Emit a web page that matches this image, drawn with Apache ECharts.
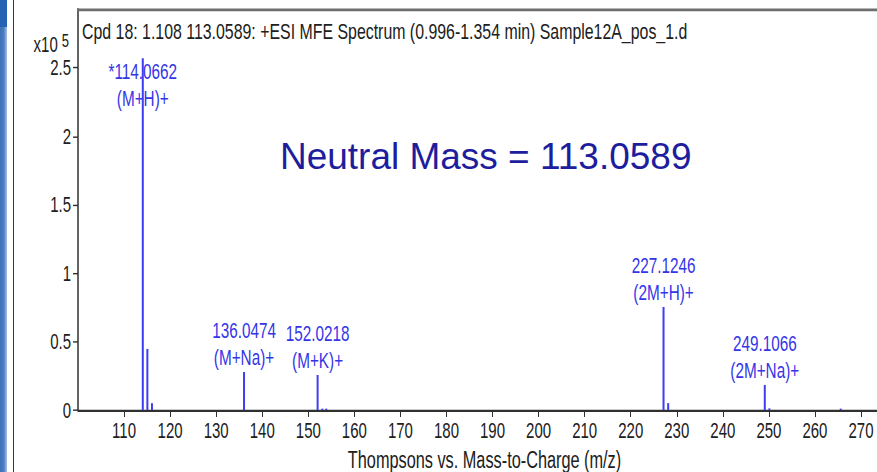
<!DOCTYPE html>
<html>
<head>
<meta charset="utf-8">
<script src="https://cdn.jsdelivr.net/npm/echarts@6/dist/echarts.min.js"></script>
<style>
  html, body { margin: 0; padding: 0; background: #ffffff; overflow: hidden; }
  #page { position: relative; width: 877px; height: 472px; overflow: hidden; }
  #sideBar { position: absolute; left: 0; top: 0; width: 7px; height: 472px;
    background: linear-gradient(to right, #3d6fb5 0%, #4b7ec3 55%, #a6c1e5 100%); }
  #sideBarTop { position: absolute; left: 0; top: 0; width: 7px; height: 27px; background: #2462b4; }
  #sideRule { position: absolute; left: 13px; top: 0; width: 1px; height: 472px; background: #3a3a3a; }
  #chart { position: absolute; left: 0; top: 0; width: 877px; transform-origin: 0 0; }
</style>
</head>
<body>
<div id="page">
  <div id="sideBar"></div>
  <div id="sideBarTop"></div>
  <div id="sideRule"></div>
  <div id="chart"></div>
</div>
<script>
// Spectrum peaks: m/z and abundance (x10^5 counts)
const mzValues    = [114.0662, 115.062, 116.06, 136.0474, 152.0218, 153.05, 153.9, 227.1246, 228.13, 249.1066, 250.1, 265.6];
const intensities = [2.57,     0.446,   0.05,   0.278,    0.256,    0.01,   0.01,  0.753,    0.05,   0.183,    0.012, 0.01];
// Adduct annotation per peak (empty = unlabelled), asterisk marks the base peak
const adducts     = ['(M+H)+', '', '', '(M+Na)+', '(M+K)+', '', '', '(2M+H)+', '', '(2M+Na)+', '', ''];
const starred     = [true, false, false, false, false, false, false, false, false, false, false, false];

// Axis ticks
const xTicks = [110, 120, 130, 140, 150, 160, 170, 180, 190, 200, 210, 220, 230, 240, 250, 260, 270];
const yTicks = [0, 0.5, 1, 1.5, 2, 2.5];

const titleText = 'Cpd 18: 1.108 113.0589: +ESI MFE Spectrum (0.996-1.354 min) Sample12A_pos_1.d';
const xAxisTitle = 'Thompsons vs. Mass-to-Charge (m/z)';
const neutralMassText = 'Neutral Mass = 113.0589';

// The spectrum plot is drawn compressed and stretched vertically as a whole
const FULL_H = 472;
const CHART_H = 332;
const S = FULL_H / CHART_H;
const chartEl = document.getElementById('chart');
chartEl.style.height = CHART_H + 'px';
chartEl.style.transform = 'scaleY(' + S + ')';

const FONT = "'Liberation Sans', Arial, sans-serif";
const PEAK_COLOR = '#3d3df2';
const LABEL_COLOR = '#3535e8';
const AXIS_COLOR = '#303030';
const LABEL_LINE_H = 19;
const LABEL_TOP_MIN = 41;

const peakData = mzValues.map((mz, i) => [mz, intensities[i], i]);

const chart = echarts.init(chartEl, null, { renderer: 'svg' });

chart.setOption({
  animation: false,
  backgroundColor: 'transparent',
  title: {
    text: titleText,
    left: 82,
    top: 14,
    padding: 0,
    textStyle: { fontFamily: FONT, fontSize: 15.9, fontWeight: 'normal', color: '#202020' }
  },
  grid: { left: 78, right: 0, top: 9 / S, bottom: CHART_H - 410 / S, outerBoundsMode: 'none', containLabel: false },
  xAxis: [
    {
      type: 'value',
      min: 100,
      max: 273.47,
      position: 'bottom',
      name: xAxisTitle,
      nameLocation: 'middle',
      nameGap: 20,
      nameTextStyle: { fontFamily: FONT, fontSize: 16.3, color: '#202020', padding: [0, 0, 0, 14] },
      axisLine: { show: true, lineStyle: { color: AXIS_COLOR, width: 1.5 } },
      axisTick: { show: true, customValues: xTicks, length: 5, lineStyle: { color: AXIS_COLOR, width: 1 } },
      axisLabel: { customValues: xTicks, margin: 7, fontFamily: FONT, fontSize: 15, color: '#202020' },
      splitLine: { show: false }
    },
    {
      type: 'value',
      min: 100,
      max: 273.47,
      position: 'top',
      axisLine: { show: true, lineStyle: { color: '#6e6e6e', width: 2 } },
      axisTick: { show: false },
      axisLabel: { show: false },
      splitLine: { show: false }
    }
  ],
  yAxis: {
    type: 'value',
    min: 0,
    max: 2.93,
    name: 'x10{s|5}',
    nameLocation: 'end',
    nameGap: -25,
    nameTextStyle: {
      fontFamily: FONT, fontSize: 15, color: '#202020',
      align: 'right', verticalAlign: 'middle', padding: [0, 9, 0, 0],
      rich: {
        s: { fontFamily: FONT, fontSize: 13, color: '#202020', verticalAlign: 'top', padding: [0, 0, 6, 4] }
      }
    },
    axisLine: { show: true, lineStyle: { color: AXIS_COLOR, width: 1.5 } },
    axisTick: { show: true, customValues: yTicks, length: 5, lineStyle: { color: AXIS_COLOR, width: 1 } },
    axisLabel: { customValues: yTicks, margin: 7, fontFamily: FONT, fontSize: 15, color: '#202020' },
    splitLine: { show: false }
  },
  graphic: [
    {
      type: 'text',
      x: 280,
      y: 157 / S,
      scaleY: 1 / S,
      style: {
        text: neutralMassText,
        fontFamily: FONT,
        fontSize: 37,
        fill: '#1d1d9e',
        align: 'left',
        verticalAlign: 'middle'
      },
      z: 10
    }
  ],
  series: [
    {
      type: 'custom',
      xAxisIndex: 0,
      yAxisIndex: 0,
      clip: false,
      data: peakData,
      renderItem: function (params, api) {
        const mz = api.value(0);
        const ab = api.value(1);
        const idx = api.value(2);
        const base = api.coord([mz, 0]);
        const tip = api.coord([mz, ab]);
        const children = [];
        if (adducts[idx]) {
          let bottom = tip[1] - 1;
          if (bottom - 2 * LABEL_LINE_H < LABEL_TOP_MIN) bottom = LABEL_TOP_MIN + 2 * LABEL_LINE_H;
          children.push({
            type: 'text',
            style: {
              text: (starred[idx] ? '*' : '') + mz.toFixed(4) + '\n' + adducts[idx],
              x: tip[0],
              y: bottom,
              align: 'center',
              verticalAlign: 'bottom',
              lineHeight: LABEL_LINE_H,
              fontFamily: FONT,
              fontSize: 15.3,
              fill: LABEL_COLOR
            }
          });
        }
        children.push({
          type: 'line',
          shape: { x1: base[0], y1: base[1], x2: tip[0], y2: tip[1] },
          style: { stroke: PEAK_COLOR, lineWidth: 2 }
        });
        return { type: 'group', children: children };
      }
    }
  ]
});
</script>
</body>
</html>
